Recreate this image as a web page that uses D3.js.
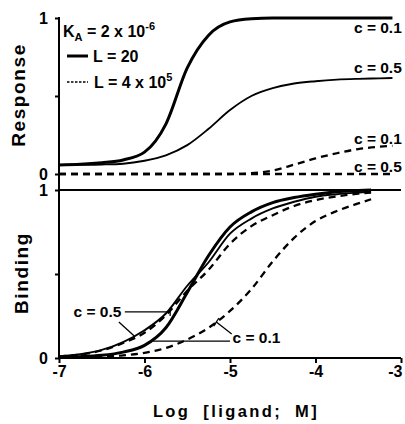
<!DOCTYPE html>
<html><head><meta charset="utf-8">
<script src="https://cdn.jsdelivr.net/npm/d3@7"></script>
<style>
body{margin:0;background:#fff}
text{font-family:"Liberation Sans",Arial,Helvetica,sans-serif;font-weight:bold;fill:#000}
</style>
</head><body>
<svg id="chart" width="405" height="424"></svg>
<script>
// ---- data (log10 ligand concentration, M) ----
const respLog = [-7,-6.75,-6.5,-6.25,-6,-5.75,-5.5,-5.25,-5,-4.75,-4.5,-4.25,-4,-3.75,-3.5,-3.25,-3.1];
const respL20c01 = [0.058,0.062,0.072,0.09,0.14,0.32,0.68,0.89,0.975,0.995,1,1,1,1,1,1,1];
const respL20c05 = [0.058,0.059,0.061,0.066,0.085,0.12,0.185,0.29,0.41,0.50,0.55,0.58,0.595,0.605,0.61,0.613,0.615];
const respL4e5c01 = [0,0,0,0,0,0,0,0,0,0.005,0.022,0.06,0.10,0.133,0.16,0.175,0.18];
const respL4e5c05 = [0,0,0,0,0,0,0,0,0,0,0,0,0,0,0,0,0];

const bindLog = [-7,-6.75,-6.5,-6.25,-6,-5.75,-5.5,-5.25,-5,-4.75,-4.5,-4.25,-4,-3.75,-3.5,-3.35];
const bindL20c01 = [0.005,0.008,0.016,0.035,0.075,0.18,0.39,0.61,0.78,0.87,0.925,0.955,0.975,0.99,0.997,1];
const bindL20c05 = [0.01,0.022,0.048,0.095,0.165,0.265,0.43,0.57,0.74,0.83,0.89,0.93,0.96,0.975,0.985,0.99];
const bindL4e5c05 = [0.01,0.02,0.045,0.09,0.15,0.255,0.40,0.525,0.68,0.785,0.85,0.905,0.94,0.962,0.978,0.985];
const bindL4e5c01 = [0.002,0.005,0.01,0.016,0.03,0.06,0.11,0.18,0.28,0.41,0.575,0.715,0.815,0.875,0.92,0.945];

const xTicks = [-7,-6,-5,-4,-3];
const yTicks = [0,0.5,1];

// ---- layout ----
const svg = d3.select("#chart");
const x = d3.scaleLinear().domain([-7,-3]).range([59,401]);
const yTop = d3.scaleLinear().domain([0,1]).range([174,18]);
const yBot = d3.scaleLinear().domain([0,1]).range([358,190]);

const styles = {
  thick:{w:3,dash:null},
  thin:{w:1.9,dash:null},
  dashed:{w:2.3,dash:"7,5"}
};

function drawCurve(xs, ys, yScale, st){
  const pts = xs.map((d,i)=>[d,ys[i]]);
  const line = d3.line().x(d=>x(d[0])).y(d=>yScale(d[1])).curve(d3.curveMonotoneX);
  svg.append("path").attr("d",line(pts)).attr("fill","none").attr("stroke","#000")
    .attr("stroke-width",st.w).attr("stroke-dasharray",st.dash).attr("stroke-linejoin","round");
}

// axes
const fmtY = d => d===0?"0":(d===1?"1":"");
const gTop = svg.append("g").attr("transform",`translate(${x(-7)},0)`)
  .call(d3.axisLeft(yTop).tickValues(yTicks).tickSize(4).tickPadding(7).tickFormat(fmtY));
const gBot = svg.append("g").attr("transform",`translate(${x(-7)},0)`)
  .call(d3.axisLeft(yBot).tickValues(yTicks).tickSize(4).tickPadding(7).tickFormat(fmtY));
const gX = svg.append("g").attr("transform",`translate(0,${yBot(0)})`)
  .call(d3.axisBottom(x).tickValues(xTicks).tickSize(5).tickPadding(3).tickFormat(d=>String(d)));
[gTop,gBot,gX].forEach(g=>{
  g.select(".domain").remove();
  g.selectAll(".tick line").attr("stroke","#000").attr("stroke-width",2);
  g.selectAll(".tick text").attr("font-size",16).attr("font-family",null);
});
// keep the last x label inside the frame
gX.selectAll(".tick text").filter(d=>d===-3).attr("text-anchor","end").attr("dx",1);

// axis lines
svg.append("line").attr("x1",x(-7)).attr("x2",x(-7)).attr("y1",yTop(1)-1).attr("y2",yBot(0)+1)
  .attr("stroke","#000").attr("stroke-width",2);
svg.append("line").attr("x1",x(-7)).attr("x2",x(-3)).attr("y1",yBot(0)).attr("y2",yBot(0))
  .attr("stroke","#000").attr("stroke-width",2);
svg.append("line").attr("x1",x(-7)).attr("x2",x(-3)).attr("y1",yBot(1)).attr("y2",yBot(1))
  .attr("stroke","#000").attr("stroke-width",2);

// response curves
drawCurve(respLog, respL4e5c05, yTop, styles.dashed);
drawCurve(respLog, respL4e5c01, yTop, styles.dashed);
drawCurve(respLog, respL20c05, yTop, styles.thin);
drawCurve(respLog, respL20c01, yTop, styles.thick);

// binding curves
drawCurve(bindLog, bindL4e5c01, yBot, styles.dashed);
drawCurve(bindLog, bindL4e5c05, yBot, styles.dashed);
drawCurve(bindLog, bindL20c05, yBot, styles.thin);
drawCurve(bindLog, bindL20c01, yBot, styles.thick);

// axis titles
svg.append("text").attr("transform","translate(25,95) rotate(-90)").attr("text-anchor","middle")
  .attr("font-size",19).attr("letter-spacing",1.6).text("Response");
svg.append("text").attr("transform","translate(28,273) rotate(-90)").attr("text-anchor","middle")
  .attr("font-size",19).attr("letter-spacing",1.6).text("Binding");
svg.append("text").attr("x",236).attr("y",417).attr("text-anchor","middle")
  .attr("font-size",16.5).attr("letter-spacing",2.4).attr("word-spacing",6).text("Log [ligand; M]");

// legend
const k = svg.append("text").attr("x",63).attr("y",37).attr("font-size",16);
k.append("tspan").text("K");
k.append("tspan").attr("font-size",11).attr("dy",4).text("A");
k.append("tspan").attr("dy",-4).text(" = 2 x 10");
k.append("tspan").attr("font-size",11).attr("dy",-7).text("-6");
svg.append("line").attr("x1",67).attr("x2",88).attr("y1",56).attr("y2",56).attr("stroke","#000").attr("stroke-width",3);
svg.append("text").attr("x",93).attr("y",62).attr("font-size",16).text("L = 20");
svg.append("line").attr("x1",67).attr("x2",88).attr("y1",82).attr("y2",82).attr("stroke","#000")
  .attr("stroke-width",1.6).attr("stroke-dasharray","2.5,1.5");
const l2 = svg.append("text").attr("x",94).attr("y",88).attr("font-size",16);
l2.append("tspan").text("L = 4 x 10");
l2.append("tspan").attr("font-size",11).attr("dy",-7).text("5");

// curve labels (top panel)
const lblTop = [
  {t:"c = 0.1", lx:-3.55, v:0.905},
  {t:"c = 0.5", lx:-3.55, v:0.65},
  {t:"c = 0.1", lx:-3.55, v:0.19},
  {t:"c = 0.5", lx:-3.55, v:0.01}
];
lblTop.forEach(d=>{
  svg.append("text").attr("x",x(d.lx)).attr("y",yTop(d.v)).attr("font-size",15.5).text(d.t);
});

// annotations (bottom panel), positions in data units
function seg(a,b){
  svg.append("line").attr("x1",x(a[0])).attr("y1",yBot(a[1])).attr("x2",x(b[0])).attr("y2",yBot(b[1]))
    .attr("stroke","#000").attr("stroke-width",1.3);
}
svg.append("text").attr("x",x(-6.83)).attr("y",yBot(0.245)).attr("font-size",15.5).text("c = 0.5");
seg([-6.23,0.274],[-5.70,0.274]);
seg([-5.70,0.25],[-5.70,0.30]);
seg([-6.30,0.214],[-6.12,0.131]);
svg.append("text").attr("x",x(-4.97)).attr("y",yBot(0.089)).attr("font-size",15.5).text("c = 0.1");
seg([-5.90,0.101],[-5.0,0.101]);
seg([-4.98,0.143],[-5.16,0.214]);
seg([-5.19,0.19],[-5.13,0.238]);
</script>
</body></html>
